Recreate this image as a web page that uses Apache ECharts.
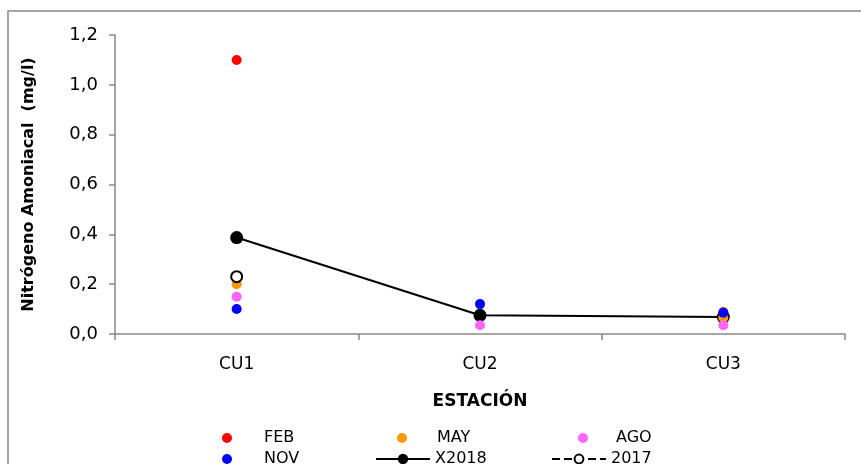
<!DOCTYPE html>
<html><head><meta charset="utf-8">
<script src="https://cdn.jsdelivr.net/npm/echarts@6/dist/echarts.min.js"></script>
<style>html,body{margin:0;padding:0;background:#fff}#c{width:861px;height:464px}</style>
</head><body><div id="c"></div>
<script>
const categories = ['CU1', 'CU2', 'CU3'];
const feb = [1.10, null, 0.087];
const may = [0.20, null, 0.065];
const ago = [0.15, 0.035, 0.035];
const nov = [0.10, 0.12, 0.085];
const x2018 = [0.387, 0.075, 0.068];
const y2017 = [0.23, null, null];
const yTicks = [0, 0.2, 0.4, 0.6, 0.8, 1.0, 1.2];

const FONT = 'DejaVu Sans';
const chart = echarts.init(document.getElementById('c'), null, {renderer: 'canvas'});
const scatter = (name, data, color) => ({
  name, type: 'scatter', data, symbol: 'circle', symbolSize: 10,
  itemStyle: {color, opacity: 1}, z: 3
});
const TS = {fontFamily: FONT, fontSize: 16, color: '#000'};
const legendItem = (name, left, top, opts) => Object.assign({
  data: [name], left, top, orient: 'horizontal',
  itemWidth: 10, itemHeight: 10,
  textStyle: TS,
  selectedMode: false
}, opts || {});

chart.setOption({
  animation: false,
  backgroundColor: '#fff',
  textStyle: {fontFamily: FONT},
  graphic: [{type: 'rect', shape: {x: 8, y: 11, width: 900, height: 500},
    style: {fill: 'none', stroke: '#888', lineWidth: 1.5}, silent: true, z: -1}],
  grid: {left: 115, right: 16, top: 35, bottom: 130},
  legend: [
    legendItem('FEB', 217, 425, {textStyle: Object.assign({}, TS, {padding: [0, 0, 0, 27]})}),
    legendItem('MAY', 392, 425, {textStyle: Object.assign({}, TS, {padding: [0, 0, 0, 25]})}),
    legendItem('AGO', 573, 425, {textStyle: Object.assign({}, TS, {padding: [0, 0, 0, 23]})}),
    legendItem('NOV', 217, 446, {textStyle: Object.assign({}, TS, {padding: [0, 0, 0, 27]})}),
    legendItem('X2018', 370, 446, {itemWidth: 54, itemHeight: 13}),
    legendItem('2017', 546, 446, {itemWidth: 54, itemHeight: 11})
  ],
  xAxis: {
    type: 'category', data: categories, boundaryGap: true,
    axisLine: {lineStyle: {color: '#888', width: 1.5}},
    axisTick: {show: true, length: 6, lineStyle: {color: '#888', width: 1.5}},
    axisLabel: {color: '#000', fontSize: 17, fontFamily: FONT, margin: 22},
    name: 'ESTACIÓN', nameLocation: 'middle', nameGap: 59,
    nameTextStyle: {fontWeight: 'bold', fontSize: 17, color: '#000', fontFamily: FONT}
  },
  yAxis: {
    type: 'value', min: 0, max: 1.2, interval: 0.2,
    axisLine: {show: true, lineStyle: {color: '#888', width: 1.5}},
    axisTick: {show: true, length: 6, lineStyle: {color: '#888', width: 1.5}},
    splitLine: {show: false},
    axisLabel: {color: '#000', fontSize: 18, fontFamily: FONT, margin: 17,
      formatter: v => v.toFixed(1).replace('.', ',')},
    name: 'Nitrógeno Amoniacal  (mg/l)', nameLocation: 'middle', nameGap: 78,
    nameTextStyle: {fontWeight: 'bold', fontSize: 16, color: '#000', fontFamily: FONT}
  },
  series: [
    {name: 'X2018', type: 'line', data: x2018, symbol: 'circle', symbolSize: 13,
      itemStyle: {color: '#000'}, lineStyle: {color: '#000', width: 2}, z: 2},
    scatter('FEB', feb, '#ff0000'),
    scatter('MAY', may, '#ff9900'),
    scatter('AGO', ago, '#ff66ff'),
    scatter('NOV', nov, '#0000ff'),
    {name: '2017', type: 'line', data: y2017, symbol: 'emptyCircle', symbolSize: 11,
      connectNulls: false,
      itemStyle: {color: '#000', borderColor: '#000', borderWidth: 2},
      lineStyle: {color: '#000', width: 1.5, type: 'dashed'}, z: 4}
  ]
});
</script></body></html>
